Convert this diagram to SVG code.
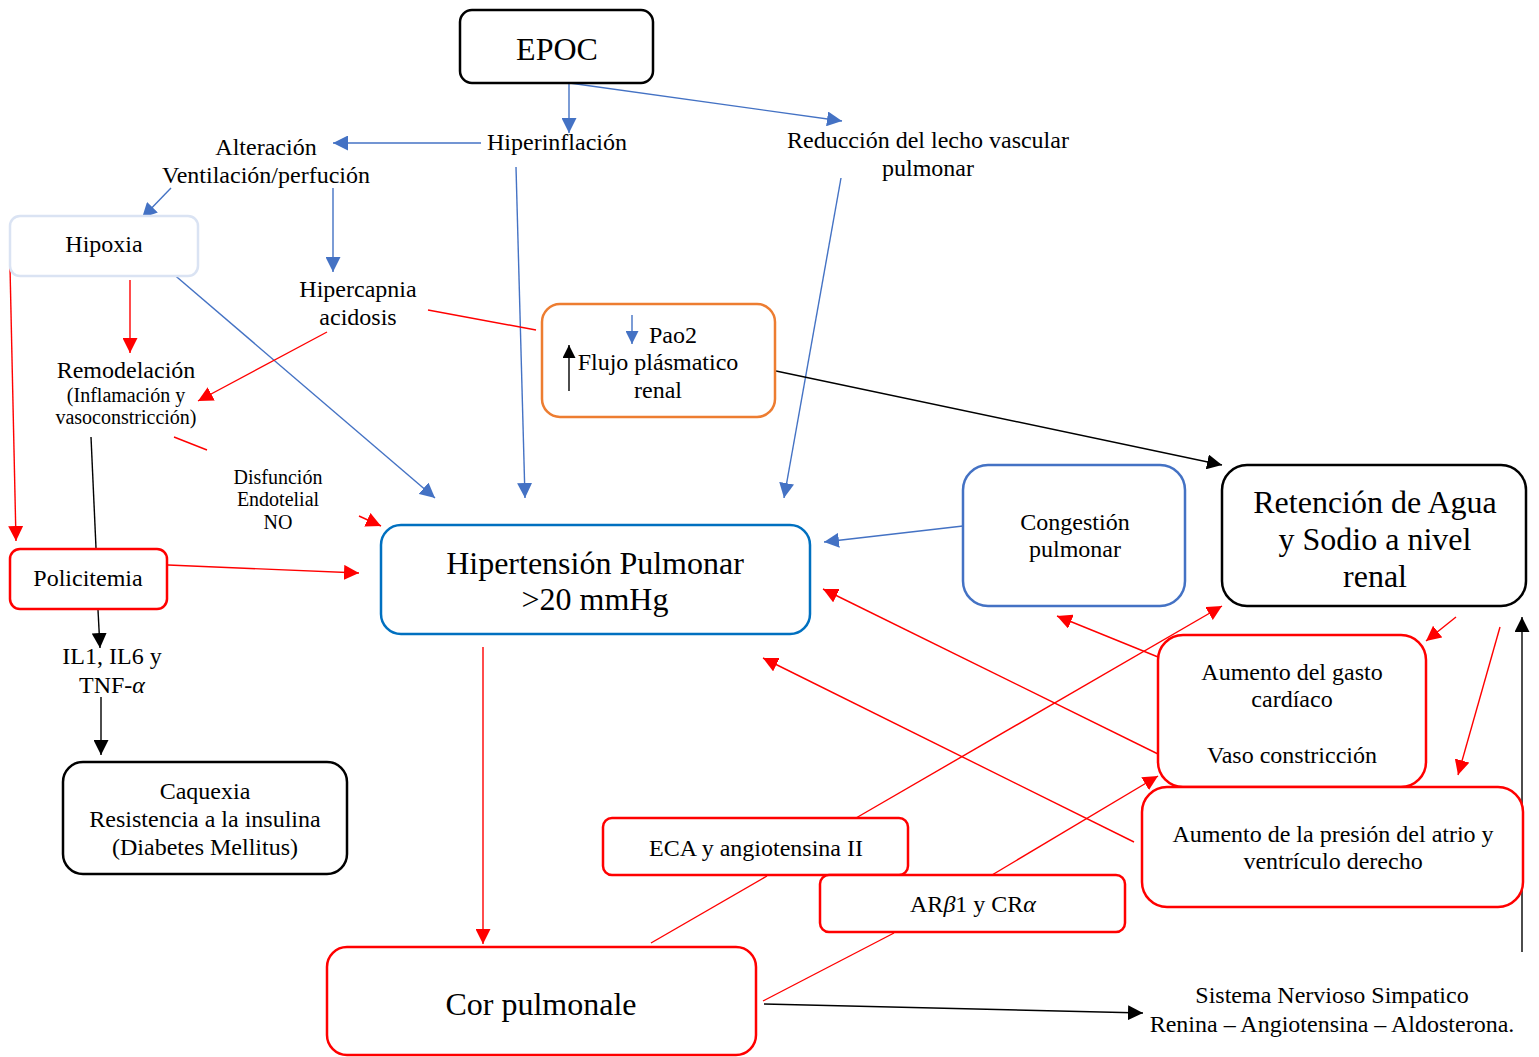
<svg xmlns="http://www.w3.org/2000/svg" width="1539" height="1057" viewBox="0 0 1539 1057">
<style>
text{font-family:"Liberation Serif","Times New Roman",serif;fill:#000;text-anchor:middle}
.f24{font-size:24px}.f20{font-size:20px}.f32{font-size:32px}
.box{fill:#fff;stroke-width:2.5}
.k{stroke:#000}.r{stroke:#FF0000}.b{stroke:#4472C4}
.c line,.s{stroke-width:1.4;fill:none}
.i{font-style:italic}
</style>
<defs>
<marker id="ab" markerUnits="userSpaceOnUse" markerWidth="15" markerHeight="15" viewBox="0 0 15 15" refX="15" refY="7.5" orient="auto"><path d="M0,0 L15,7.5 L0,15 z" fill="#4472C4"/></marker>
<marker id="ar" markerUnits="userSpaceOnUse" markerWidth="15" markerHeight="15" viewBox="0 0 15 15" refX="15" refY="7.5" orient="auto"><path d="M0,0 L15,7.5 L0,15 z" fill="#FF0000"/></marker>
<marker id="ak" markerUnits="userSpaceOnUse" markerWidth="15" markerHeight="15" viewBox="0 0 15 15" refX="15" refY="7.5" orient="auto"><path d="M0,0 L15,7.5 L0,15 z" fill="#000"/></marker>
<marker id="abs" markerUnits="userSpaceOnUse" markerWidth="13" markerHeight="13" viewBox="0 0 15 15" refX="15" refY="7.5" orient="auto"><path d="M0,0 L15,7.5 L0,15 z" fill="#4472C4"/></marker>
<marker id="aks" markerUnits="userSpaceOnUse" markerWidth="13" markerHeight="13" viewBox="0 0 15 15" refX="15" refY="7.5" orient="auto"><path d="M0,0 L15,7.5 L0,15 z" fill="#000"/></marker>
</defs>

<g id="connectors" class="c">
<line class="b" x1="569" y1="83" x2="569" y2="133" marker-end="url(#ab)"/>
<line class="b" x1="555" y1="81" x2="842" y2="121" marker-end="url(#ab)"/>
<line class="b" x1="481" y1="143" x2="333" y2="143" marker-end="url(#ab)"/>
<line class="b" x1="171" y1="188" x2="142" y2="218" marker-end="url(#ab)"/>
<line class="b" x1="333" y1="188" x2="333" y2="272" marker-end="url(#ab)"/>
<line class="b" x1="516" y1="167" x2="525" y2="498" marker-end="url(#ab)"/>
<line class="b" x1="841" y1="178" x2="784" y2="498" marker-end="url(#ab)"/>
<line class="b" x1="171" y1="272" x2="435" y2="498" marker-end="url(#ab)"/>
<line class="b" x1="963" y1="526" x2="824" y2="542" marker-end="url(#ab)"/>

<line class="r" x1="10" y1="267" x2="16" y2="541" marker-end="url(#ar)"/>
<line class="r" x1="130" y1="280" x2="130" y2="353" marker-end="url(#ar)"/>
<line class="r" x1="327" y1="332" x2="198" y2="401" marker-end="url(#ar)"/>
<line class="r" x1="428" y1="310" x2="536" y2="330"/>
<line class="r" x1="174" y1="437" x2="207" y2="450"/>
<line class="r" x1="359" y1="516" x2="381" y2="526" marker-end="url(#ar)"/>
<line class="r" x1="168" y1="565" x2="359" y2="573" marker-end="url(#ar)"/>
<line class="r" x1="483" y1="647" x2="483" y2="944" marker-end="url(#ar)"/>
<line class="r" x1="1158" y1="657" x2="1057" y2="616" marker-end="url(#ar)"/>
<line class="r" x1="1158" y1="754" x2="823" y2="589" marker-end="url(#ar)"/>
<line class="r" x1="1134" y1="842" x2="763" y2="658" marker-end="url(#ar)"/>
<line class="r" x1="856" y1="818" x2="1222" y2="606" marker-end="url(#ar)"/>
<line class="r" x1="651" y1="943" x2="767" y2="876"/>
<line class="r" x1="992" y1="875" x2="1158" y2="776" marker-end="url(#ar)"/>
<line class="r" x1="763" y1="1001" x2="894" y2="933"/>
<line class="r" x1="1456" y1="617" x2="1426" y2="641" marker-end="url(#ar)"/>
<line class="r" x1="1500" y1="627" x2="1458" y2="775" marker-end="url(#ar)"/>

<line class="k" x1="776" y1="371" x2="1222" y2="465" marker-end="url(#ak)"/>
<line class="k" x1="91" y1="437" x2="96" y2="548"/>
<line class="k" x1="98" y1="610" x2="100" y2="648" marker-end="url(#ak)"/>
<line class="k" x1="101" y1="697" x2="101" y2="755" marker-end="url(#ak)"/>
<line class="k" x1="764" y1="1004" x2="1143" y2="1013" marker-end="url(#ak)"/>
<line class="k" x1="1522" y1="952" x2="1522" y2="617" marker-end="url(#ak)"/>
</g>

<g id="epoc"><rect class="box k" x="460" y="10" width="193" height="73" rx="12"/><text class="f32" x="557" y="60">EPOC</text></g>
<g id="hiperinflacion"><text class="f24" x="557" y="150">Hiperinflación</text></g>
<g id="reduccion"><text class="f24" x="928" y="148">Reducción del lecho vascular</text><text class="f24" x="928" y="176">pulmonar</text></g>
<g id="alteracion"><text class="f24" x="266" y="155">Alteración</text><text class="f24" x="266" y="183">Ventilación/perfución</text></g>
<g id="hipoxia"><rect class="box" style="stroke:#DAE3F3" x="10" y="216" width="188" height="60" rx="10"/><text class="f24" x="104" y="252">Hipoxia</text></g>
<g id="hipercapnia"><text class="f24" x="358" y="297">Hipercapnia</text><text class="f24" x="358" y="325">acidosis</text></g>
<g id="pao2"><rect class="box" style="stroke:#ED7D31" x="542" y="304" width="233" height="113" rx="18"/>
<line class="s b" x1="632" y1="315" x2="632" y2="344" marker-end="url(#abs)"/>
<line class="s k" x1="569" y1="391" x2="569" y2="345" marker-end="url(#aks)"/>
<text class="f24" x="673" y="343">Pao2</text><text class="f24" x="658" y="370">Flujo plásmatico</text><text class="f24" x="658" y="398">renal</text></g>
<g id="remodelacion"><text class="f24" x="126" y="378">Remodelación</text><text class="f20" x="126" y="402">(Inflamación y</text><text class="f20" x="126" y="424">vasoconstricción)</text></g>
<g id="disfuncion"><text class="f20" x="278" y="484">Disfunción</text><text class="f20" x="278" y="506">Endotelial</text><text class="f20" x="278" y="529">NO</text></g>
<g id="policitemia"><rect class="box r" x="10" y="549" width="157" height="60" rx="10"/><text class="f24" x="88" y="586">Policitemia</text></g>
<g id="il"><text class="f24" x="112" y="664">IL1, IL6 y</text><text class="f24" x="112" y="693">TNF-<tspan class="i">α</tspan></text></g>
<g id="caquexia"><rect class="box k" x="63" y="762" width="284" height="112" rx="20"/><text class="f24" x="205" y="799">Caquexia</text><text class="f24" x="205" y="827">Resistencia a la insulina</text><text class="f24" x="205" y="855">(Diabetes Mellitus)</text></g>
<g id="hipertension"><rect class="box" style="stroke:#0070C0" x="381" y="525" width="429" height="109" rx="20"/><text class="f32" x="595" y="574">Hipertensión Pulmonar</text><text class="f32" x="595" y="610">&gt;20 mmHg</text></g>
<g id="congestion"><rect class="box b" x="963" y="465" width="222" height="141" rx="25"/><text class="f24" x="1075" y="530">Congestión</text><text class="f24" x="1075" y="557">pulmonar</text></g>
<g id="retencion"><rect class="box k" x="1222" y="465" width="304" height="141" rx="25"/><text class="f32" x="1375" y="513">Retención de Agua</text><text class="f32" x="1375" y="550">y Sodio a nivel</text><text class="f32" x="1375" y="587">renal</text></g>
<g id="gasto"><rect class="box r" x="1158" y="635" width="268" height="152" rx="25"/><text class="f24" x="1292" y="680">Aumento del gasto</text><text class="f24" x="1292" y="707">cardíaco</text><text class="f24" x="1292" y="763">Vaso constricción</text></g>
<g id="presion"><rect class="box r" x="1142" y="787" width="381" height="120" rx="25"/><text class="f24" x="1333" y="842">Aumento de la presión del atrio y</text><text class="f24" x="1333" y="869">ventrículo derecho</text></g>
<g id="eca"><rect class="box r" x="603" y="818" width="305" height="57" rx="9"/><text class="f24" x="756" y="856">ECA y angiotensina II</text></g>
<g id="ar"><rect class="box r" x="820" y="875" width="305" height="57" rx="9"/><text class="f24" x="973" y="912">AR<tspan class="i">β</tspan>1 y CR<tspan class="i">α</tspan></text></g>
<g id="cor"><rect class="box r" x="327" y="947" width="429" height="108" rx="20"/><text class="f32" x="541" y="1015">Cor pulmonale</text></g>
<g id="sistema"><text class="f24" x="1332" y="1003">Sistema Nervioso Simpatico</text><text class="f24" x="1332" y="1032">Renina – Angiotensina – Aldosterona.</text></g>
</svg>
